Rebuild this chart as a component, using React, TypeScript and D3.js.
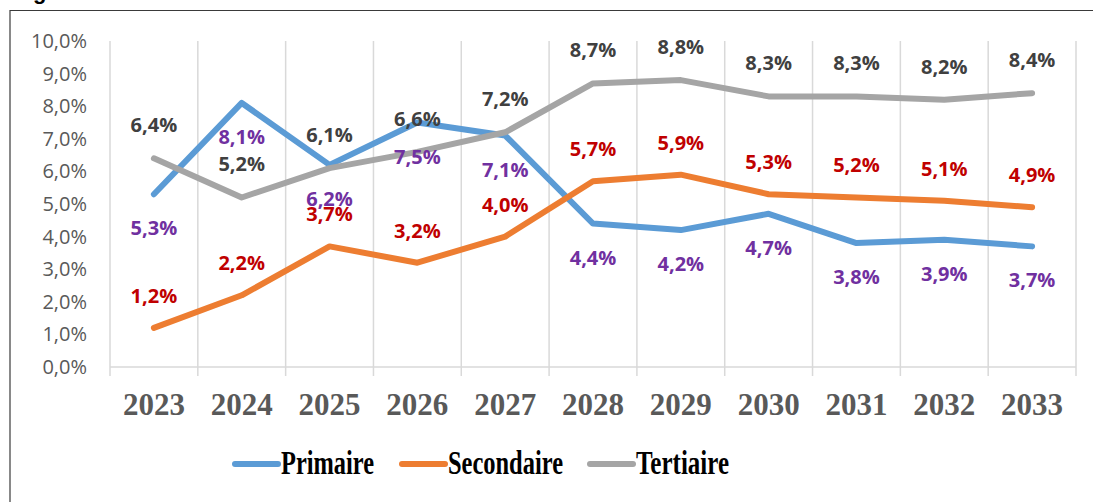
import React from "react";
import * as d3 from "d3";

const years = ["2023", "2024", "2025", "2026", "2027", "2028", "2029", "2030", "2031", "2032", "2033"];
const primaire = [5.3, 8.1, 6.2, 7.5, 7.1, 4.4, 4.2, 4.7, 3.8, 3.9, 3.7];
const secondaire = [1.2, 2.2, 3.7, 3.2, 4.0, 5.7, 5.9, 5.3, 5.2, 5.1, 4.9];
const tertiaire = [6.4, 5.2, 6.1, 6.6, 7.2, 8.7, 8.8, 8.3, 8.3, 8.2, 8.4];
const yTicks = [0, 1, 2, 3, 4, 5, 6, 7, 8, 9, 10];

const seriesDefs = [
  { name: "Primaire", values: primaire, color: "#5B9BD5", labelColor: "#7030A0", labelDy: 34, legendX: 235, legendW: 93 },
  { name: "Secondaire", values: secondaire, color: "#ED7D31", labelColor: "#C00000", labelDy: -32, legendX: 402, legendW: 115 },
  { name: "Tertiaire", values: tertiaire, color: "#A5A5A5", labelColor: "#404040", labelDy: -33, legendX: 590, legendW: 93 },
];

const fmt = (v: number) => v.toFixed(1).replace(".", ",") + "%";

export default function App() {
  const W = 1093, H = 502;
  const x = d3.scaleBand<string>().domain(years).range([110, 1076]).padding(0);
  const y = d3.scaleLinear().domain([0, 10]).range([367, 41]);
  const cx = (yr: string) => (x(yr) as number) + x.bandwidth() / 2;
  const line = d3.line<number>().x((_, i) => cx(years[i])).y((d) => y(d));
  const boundaries = years.map((yr) => x(yr) as number).concat([x.range()[1]]);

  return (
    <svg width={W} height={H} style={{ position: "absolute", left: 0, top: 0, background: "#fff" }}>
      <text x={13.5} y={-1} fontFamily="Liberation Sans" fontWeight="bold" fontSize={22} fill="#000">Figure</text>
      <line x1={10} y1={10.5} x2={W} y2={10.5} stroke="#3a3a3a" strokeWidth={1.2} />
      <line x1={10} y1={10} x2={10} y2={H} stroke="#3a3a3a" strokeWidth={1.2} />

      {boundaries.map((bx, i) => (
        <line key={"g" + i} x1={bx} x2={bx} y1={y(10)} y2={376} stroke="#D9D9D9" strokeWidth={1.5} />
      ))}
      <line x1={x.range()[0]} x2={x.range()[1]} y1={y(0)} y2={y(0)} stroke="#D9D9D9" strokeWidth={1.5} />

      {yTicks.map((t) => (
        <text key={"y" + t} x={87} y={y(t)} dy="0.35em" textAnchor="end" fontFamily="Open Sans" fontSize={20} fill="#595959">
          {t.toFixed(1).replace(".", ",") + "%"}
        </text>
      ))}

      {years.map((yr) => (
        <text key={"x" + yr} x={cx(yr)} y={415} textAnchor="middle" fontFamily="Liberation Serif" fontWeight="bold" fontSize={31} fill="#595959">
          {yr}
        </text>
      ))}

      {seriesDefs.map((s) => (
        <path key={"l" + s.name} d={line(s.values) || ""} fill="none" stroke={s.color} strokeWidth={6} strokeLinecap="round" strokeLinejoin="round" />
      ))}

      {seriesDefs.map((s) =>
        s.values.map((v, i) => (
          <text key={s.name + i} x={cx(years[i])} y={y(v) + s.labelDy} dy="0.35em" textAnchor="middle" fontFamily="Open Sans" fontWeight="bold" fontSize={20} fill={s.labelColor}>
            {fmt(v)}
          </text>
        ))
      )}

      {seriesDefs.map((s) => (
        <g key={"leg" + s.name}>
          <line x1={s.legendX} x2={s.legendX + 43} y1={464} y2={464} stroke={s.color} strokeWidth={6} strokeLinecap="round" />
          <text x={s.legendX + 46} y={474} fontFamily="Liberation Serif" fontWeight="bold" fontSize={33} fill="#000" textLength={s.legendW} lengthAdjust="spacingAndGlyphs">
            {s.name}
          </text>
        </g>
      ))}
    </svg>
  );
}
